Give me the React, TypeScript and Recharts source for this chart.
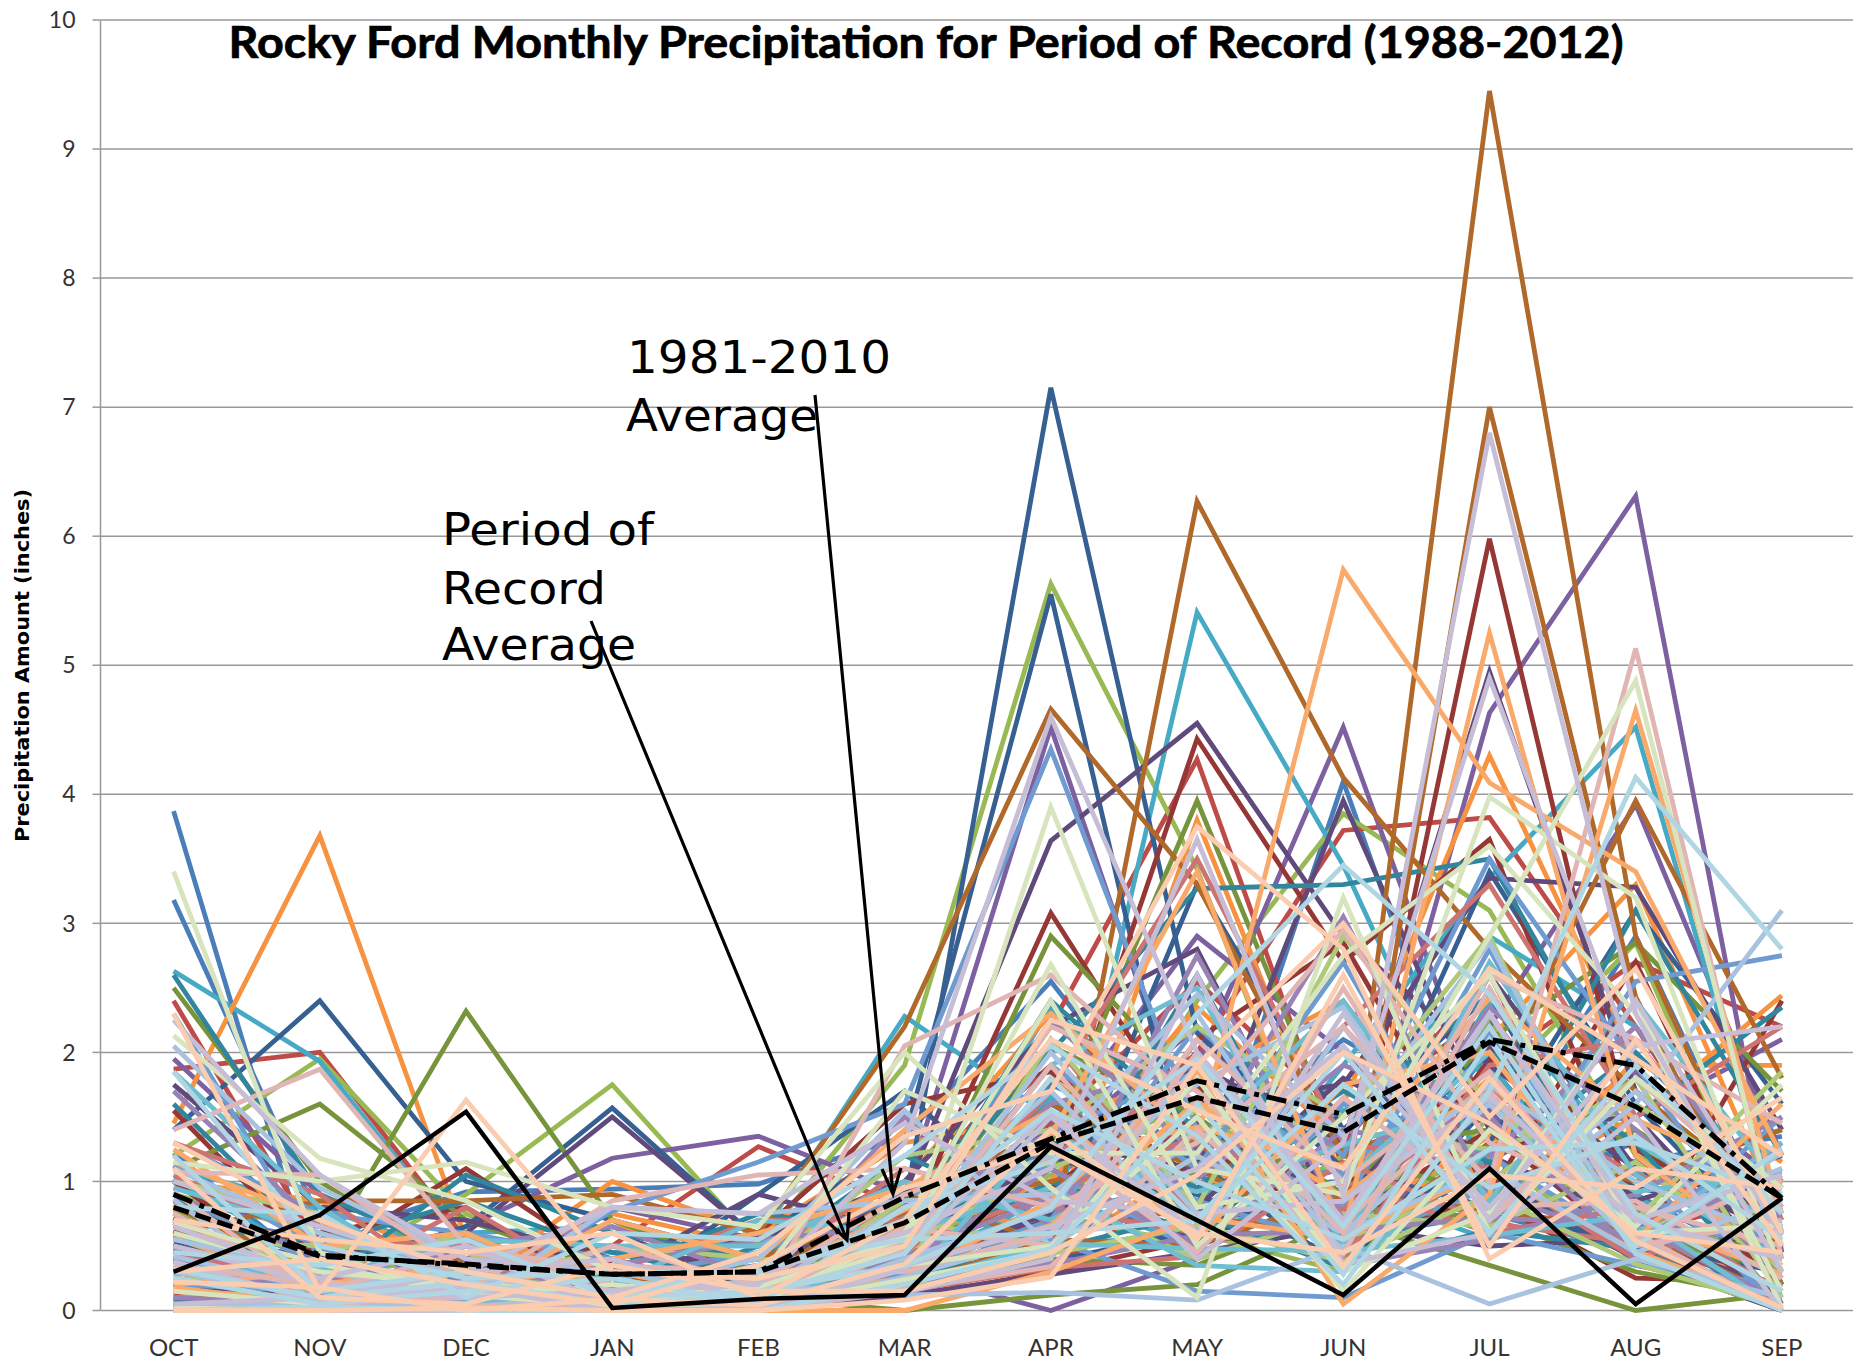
import { CartesianGrid, Line, LineChart, XAxis, YAxis } from "recharts";

const months = ["OCT", "NOV", "DEC", "JAN", "FEB", "MAR", "APR", "MAY", "JUN", "JUL", "AUG", "SEP"];
const yTicks = [0, 1, 2, 3, 4, 5, 6, 7, 8, 9, 10];
const edgeTicks = [-0.5, 0.5, 1.5, 2.5, 3.5, 4.5, 5.5, 6.5, 7.5, 8.5, 9.5, 10.5, 11.5];

// one row per record, OCT..SEP, grouped by line colour
const blue = [
  [3.87, 0.1, 0.45, 0.2, 0.35, 0.9, 1.6, 0.95, 1.0, 1.1, 2.9, 0.5],
  [0.75, 0.55, 0.92, 0.94, 0.98, 1.35, 2.55, 1.1, 0.7, 2.0, 0.9, 0.3],
  [0.6, 0.4, 0.1, 0.05, 0.3, 0.6, 1.3, 0.7, 4.1, 0.9, 1.3, 0.8],
  [3.18, 0.7, 0.2, 0.1, 0.15, 0.4, 0.8, 1.4, 0.7, 1.9, 0.6, 0.9],
  [0.02, 0.0, 0.05, 0.0, 0.12, 0.2, 0.7, 1.05, 0.55, 0.75, 0.45, 0.05],
  [1.22, 0.28, 0.0, 0.08, 0.0, 0.62, 1.75, 1.25, 2.1, 1.45, 1.15, 1.35],
];
const red = [
  [2.4, 0.5, 0.2, 0.1, 0.25, 0.9, 1.9, 0.8, 1.3, 2.6, 0.5, 0.2],
  [1.87, 2.0, 0.55, 0.3, 0.1, 0.5, 1.0, 2.0, 3.72, 3.82, 2.2, 0.5],
  [0.5, 0.3, 0.4, 0.5, 1.27, 0.8, 2.2, 4.27, 1.1, 1.5, 0.6, 0.9],
  [0.95, 0.7, 0.1, 0.2, 0.15, 0.35, 0.7, 1.5, 0.5, 1.9, 2.7, 2.2],
  [0.12, 0.22, 0.0, 0.02, 0.0, 0.3, 0.35, 0.95, 0.85, 1.0, 0.4, 0.0],
  [0.62, 0.05, 0.22, 0.0, 0.18, 0.75, 1.45, 2.55, 1.5, 2.3, 0.75, 1.05],
];
const green = [
  [1.2, 1.95, 0.75, 0.2, 0.1, 0.6, 1.5, 0.6, 0.3, 1.5, 0.5, 0.4],
  [0.65, 0.3, 0.9, 1.75, 0.5, 1.9, 5.63, 3.42, 0.5, 1.2, 0.4, 0.1],
  [0.4, 0.2, 0.5, 0.3, 0.2, 0.8, 0.6, 2.4, 3.85, 3.1, 1.2, 0.7],
  [0.9, 0.6, 0.1, 0.15, 0.3, 0.4, 1.2, 1.0, 0.6, 1.7, 2.85, 0.2],
  [0.2, 0.02, 0.0, 0.12, 0.0, 0.25, 0.75, 0.5, 1.2, 0.85, 1.35, 0.05],
  [0.78, 0.33, 0.12, 0.0, 0.08, 0.55, 1.05, 1.65, 0.42, 2.25, 0.6, 0.55],
];
const purple = [
  [1.95, 0.9, 0.4, 0.5, 0.3, 0.6, 1.0, 1.9, 4.52, 1.4, 0.7, 0.3],
  [0.55, 0.3, 0.65, 1.18, 1.35, 0.9, 4.52, 1.2, 0.6, 4.63, 6.31, 0.45],
  [0.3, 0.1, 0.25, 0.8, 0.55, 0.3, 0.0, 0.4, 0.8, 2.2, 3.92, 1.2],
  [0.85, 0.65, 0.1, 0.1, 0.05, 0.7, 1.4, 2.9, 2.0, 0.9, 1.5, 2.1],
  [0.05, 0.0, 0.08, 0.0, 0.02, 0.4, 0.6, 0.8, 1.1, 1.55, 0.35, 0.12],
  [0.48, 0.12, 0.0, 0.18, 0.0, 0.5, 1.25, 2.2, 0.7, 1.15, 1.85, 1.0],
];
const teal = [
  [2.63, 1.93, 0.5, 0.45, 0.55, 2.28, 1.5, 0.9, 1.1, 2.9, 2.2, 0.8],
  [0.7, 0.5, 0.3, 0.2, 0.4, 0.8, 0.55, 5.41, 3.45, 1.0, 0.6, 0.4],
  [1.1, 0.8, 0.4, 0.1, 0.2, 0.3, 0.9, 0.5, 1.9, 3.35, 4.52, 0.6],
  [0.3, 0.15, 0.6, 0.65, 0.3, 0.5, 2.35, 1.3, 0.4, 2.4, 1.1, 1.4],
  [0.0, 0.08, 0.02, 0.0, 0.1, 0.33, 0.5, 0.6, 0.95, 0.55, 0.9, 0.02],
  [1.02, 0.38, 0.1, 0.05, 0.0, 0.68, 1.65, 0.85, 1.55, 1.9, 0.55, 0.7],
];
const orange = [
  [1.45, 3.68, 0.55, 0.3, 0.4, 1.0, 2.3, 1.2, 0.8, 1.8, 0.7, 0.5],
  [0.25, 0.1, 0.2, 1.0, 0.6, 1.3, 1.5, 1.8, 2.4, 0.9, 1.5, 2.44],
  [1.0, 0.85, 0.3, 0.75, 0.5, 0.9, 0.6, 3.8, 1.0, 2.1, 3.3, 0.7],
  [0.1, 0.2, 0.1, 0.7, 0.1, 0.4, 1.8, 0.9, 1.6, 4.3, 1.9, 1.9],
  [0.08, 0.0, 0.0, 0.05, 0.02, 0.18, 0.42, 1.15, 0.65, 1.35, 0.85, 0.0],
  [0.82, 0.18, 0.28, 0.0, 0.12, 0.6, 1.0, 2.35, 1.3, 0.7, 1.95, 1.15],
];
const darkBlue = [
  [1.4, 2.4, 1.0, 0.7, 0.4, 0.8, 7.15, 2.15, 1.1, 0.8, 0.5, 0.3],
  [0.4, 0.3, 0.65, 1.57, 0.55, 1.33, 5.55, 0.68, 0.9, 3.4, 1.6, 0.4],
  [0.6, 0.5, 0.3, 0.1, 0.9, 1.7, 0.6, 3.3, 1.4, 2.45, 0.5, 0.1],
  [0.15, 0.1, 0.05, 0.3, 0.2, 0.5, 1.2, 0.9, 0.4, 1.3, 3.1, 1.6],
  [0.0, 0.02, 0.0, 0.1, 0.0, 0.15, 0.38, 0.62, 0.72, 1.05, 0.4, 0.0],
  [0.52, 0.25, 0.05, 0.0, 0.15, 0.45, 1.5, 1.15, 0.32, 1.6, 0.95, 0.75],
];
const darkRed = [
  [0.8, 0.5, 0.3, 0.4, 0.1, 0.6, 3.08, 1.3, 0.6, 5.98, 1.2, 0.2],
  [1.55, 0.4, 1.1, 0.35, 0.2, 0.35, 1.1, 4.43, 2.7, 3.65, 0.8, 0.1],
  [0.3, 0.6, 0.8, 0.1, 0.6, 1.6, 1.85, 1.0, 0.7, 1.4, 0.45, 2.4],
  [1.0, 0.2, 0.1, 0.05, 0.0, 0.2, 0.55, 2.1, 2.85, 0.9, 2.7, 0.3],
  [0.03, 0.0, 0.12, 0.0, 0.02, 0.1, 0.3, 0.55, 0.6, 0.85, 0.25, 0.22],
  [0.68, 0.08, 0.0, 0.12, 0.05, 0.42, 0.95, 1.75, 0.4, 1.95, 1.25, 0.6],
];
const darkGreen = [
  [2.5, 1.0, 0.3, 0.2, 0.3, 0.6, 2.05, 1.5, 0.7, 2.2, 0.6, 0.3],
  [1.1, 1.6, 0.7, 0.3, 0.1, 0.7, 1.3, 3.95, 1.2, 0.9, 1.4, 0.6],
  [0.85, 0.4, 2.32, 0.7, 0.3, 0.5, 2.9, 1.7, 0.9, 2.1, 2.85, 1.7],
  [0.1, 0.05, 0.15, 0.2, 0.1, 0.0, 0.12, 0.2, 0.7, 0.35, 0.0, 0.13],
  [0.05, 0.12, 0.0, 0.02, 0.0, 0.22, 0.4, 0.35, 0.8, 0.72, 0.3, 0.08],
  [0.42, 0.02, 0.18, 0.0, 0.05, 0.58, 1.15, 1.05, 1.25, 1.4, 0.65, 0.45],
];
const darkPurple = [
  [1.75, 0.8, 0.7, 0.4, 0.1, 0.5, 1.2, 0.8, 1.8, 1.2, 0.7, 0.5],
  [0.6, 0.4, 0.6, 1.5, 0.55, 1.0, 2.2, 2.8, 0.6, 2.6, 1.1, 0.9],
  [0.3, 0.2, 0.4, 0.1, 0.3, 0.9, 3.64, 4.55, 2.9, 1.9, 1.1, 0.6],
  [0.2, 0.1, 0.05, 0.3, 0.9, 0.6, 1.3, 1.1, 3.95, 1.4, 1.5, 0.3],
  [0.32, 0.2, 0.1, 0.2, 0.6, 0.5, 0.9, 1.9, 1.3, 4.95, 1.7, 0.6],
  [0.65, 0.3, 0.2, 0.6, 0.2, 0.4, 0.7, 1.6, 1.75, 3.35, 3.28, 1.4],
  [0.0, 0.0, 0.05, 0.02, 0.0, 0.12, 0.28, 0.45, 0.65, 0.5, 0.55, 0.18],
  [0.72, 0.15, 0.0, 0.08, 0.12, 0.38, 0.75, 1.45, 0.85, 2.05, 0.85, 1.2],
];
const darkTeal = [
  [2.6, 0.9, 0.4, 0.3, 0.75, 0.6, 2.4, 1.4, 1.1, 2.0, 1.3, 0.05],
  [0.9, 0.2, 1.05, 0.6, 0.4, 1.2, 0.7, 2.6, 0.5, 1.1, 3.1, 1.2],
  [0.3, 0.6, 0.2, 0.1, 0.5, 0.7, 2.0, 3.27, 3.3, 3.5, 1.5, 2.35],
  [1.6, 0.5, 0.85, 0.45, 0.2, 0.4, 1.0, 0.6, 1.5, 2.45, 0.7, 0.0],
  [0.08, 0.05, 0.0, 0.0, 0.05, 0.28, 0.47, 0.75, 0.33, 0.62, 0.48, 0.03],
  [0.58, 0.22, 0.12, 0.02, 0.0, 0.52, 1.3, 0.95, 1.7, 1.15, 2.0, 0.85],
];
const brown = [
  [0.5, 0.2, 0.1, 0.2, 0.1, 0.5, 0.9, 0.7, 0.66, 9.45, 2.9, 0.4],
  [0.3, 0.1, 0.4, 0.2, 0.4, 0.8, 1.0, 1.3, 0.43, 7.0, 2.43, 0.2],
  [0.6, 0.85, 0.85, 0.9, 0.6, 2.2, 4.66, 3.3, 1.2, 1.7, 3.95, 1.8],
  [0.8, 0.3, 0.1, 0.05, 0.25, 0.9, 0.52, 6.27, 4.13, 2.8, 1.7, 0.8],
  [0.02, 0.0, 0.02, 0.0, 0.08, 0.2, 0.55, 0.5, 0.9, 0.78, 0.62, 0.1],
  [0.38, 0.12, 0.0, 0.15, 0.0, 0.75, 1.6, 1.1, 0.5, 1.3, 1.0, 1.4],
];
const midBlue = [
  [2.3, 0.4, 0.2, 0.1, 0.2, 0.5, 1.9, 1.1, 2.7, 0.75, 2.55, 2.75],
  [0.2, 0.15, 0.1, 0.77, 1.15, 1.6, 4.35, 1.4, 0.8, 2.8, 0.7, 0.5],
  [1.3, 0.75, 0.6, 0.4, 0.1, 0.3, 0.7, 2.2, 1.2, 3.5, 1.9, 0.3],
  [0.5, 0.1, 0.3, 0.25, 0.45, 0.9, 1.1, 0.45, 1.6, 1.2, 0.5, 1.5],
  [0.9, 0.35, 0.15, 0.1, 0.05, 0.45, 0.55, 0.15, 0.1, 0.6, 0.35, 0.2],
  [0.0, 0.02, 0.08, 0.0, 0.03, 0.28, 0.62, 0.85, 0.5, 0.95, 1.1, 0.0],
  [1.12, 0.48, 0.0, 0.13, 0.0, 0.72, 1.38, 1.85, 1.05, 2.15, 0.78, 0.95],
];
const midRed = [
  [1.3, 0.9, 0.1, 0.2, 0.05, 0.45, 1.7, 3.5, 1.3, 1.1, 0.4, 0.8],
  [0.45, 0.2, 0.8, 0.15, 0.3, 1.1, 0.8, 0.6, 2.2, 3.3, 1.5, 2.2],
  [0.7, 0.05, 0.3, 0.3, 0.7, 0.7, 1.2, 1.8, 0.4, 1.9, 2.1, 0.6],
  [1.05, 0.55, 0.5, 0.05, 0.1, 0.25, 2.1, 0.7, 1.0, 0.6, 0.8, 0.15],
  [0.02, 0.0, 0.03, 0.02, 0.0, 0.15, 0.33, 0.42, 1.15, 0.68, 0.52, 0.05],
  [0.33, 0.28, 0.0, 0.1, 0.22, 0.48, 0.92, 1.35, 0.78, 1.7, 1.05, 0.72],
];
const midGreen = [
  [0.7, 0.3, 0.6, 0.1, 0.3, 1.2, 1.4, 2.2, 1.5, 2.9, 0.6, 1.0],
  [0.15, 0.1, 0.2, 0.25, 0.05, 0.7, 0.5, 1.2, 0.55, 1.0, 1.8, 0.1],
  [1.0, 0.75, 0.15, 0.5, 0.4, 0.3, 2.1, 0.8, 2.9, 1.6, 0.7, 1.85],
  [0.55, 0.5, 0.45, 0.05, 0.15, 0.85, 0.9, 0.4, 0.75, 0.65, 1.15, 0.3],
  [0.0, 0.06, 0.0, 0.04, 0.0, 0.18, 0.44, 0.66, 0.38, 0.9, 0.36, 0.02],
  [0.25, 0.14, 0.32, 0.0, 0.08, 0.52, 1.1, 1.55, 1.4, 1.25, 1.6, 0.88],
];
const midPurple = [
  [1.7, 0.65, 0.3, 0.2, 0.15, 0.55, 2.25, 1.2, 3.05, 0.9, 0.55, 1.1],
  [0.4, 0.1, 0.5, 0.65, 0.25, 1.5, 0.65, 2.75, 0.7, 2.35, 1.4, 0.25],
  [0.9, 0.4, 0.1, 0.1, 0.35, 0.35, 1.1, 0.5, 1.4, 1.2, 2.2, 0.7],
  [0.1, 0.05, 0.25, 0.35, 0.55, 0.65, 1.6, 1.9, 0.35, 0.55, 0.9, 1.5],
  [0.03, 0.0, 0.02, 0.0, 0.06, 0.22, 0.36, 0.58, 0.62, 0.72, 0.66, 0.06],
  [0.46, 0.26, 0.0, 0.16, 0.0, 0.42, 0.88, 1.02, 1.9, 1.5, 0.42, 1.3],
];
const midTeal = [
  [1.85, 0.8, 0.1, 0.15, 0.1, 0.45, 1.9, 2.5, 0.5, 2.7, 1.05, 0.4],
  [0.35, 0.25, 0.55, 0.5, 0.5, 1.0, 0.7, 1.3, 2.4, 0.85, 2.4, 0.95],
  [0.95, 0.6, 0.3, 0.05, 0.2, 0.2, 1.4, 0.7, 1.0, 2.0, 0.6, 1.3],
  [0.6, 0.15, 0.05, 0.2, 0.7, 0.6, 0.95, 0.35, 0.3, 1.25, 1.3, 0.65],
  [0.0, 0.0, 0.06, 0.03, 0.0, 0.2, 0.52, 0.48, 0.46, 0.58, 0.74, 0.0],
  [0.28, 0.34, 0.16, 0.0, 0.14, 0.62, 1.22, 0.92, 1.28, 1.62, 0.92, 1.08],
];
const midOrange = [
  [1.25, 0.5, 0.6, 0.1, 0.05, 0.65, 1.35, 3.4, 0.6, 5.25, 1.2, 0.35],
  [0.2, 0.3, 0.1, 0.7, 0.4, 1.4, 2.3, 1.32, 5.74, 4.09, 3.4, 1.2],
  [0.75, 0.05, 0.45, 0.3, 0.1, 0.25, 0.85, 1.85, 0.05, 0.9, 4.65, 0.75],
  [1.15, 0.7, 0.15, 0.4, 0.6, 0.95, 1.55, 0.55, 1.75, 2.0, 0.55, 1.6],
  [0.04, 0.0, 0.0, 0.06, 0.0, 0.0, 0.3, 0.72, 0.56, 1.08, 0.46, 0.04],
  [0.56, 0.2, 0.35, 0.0, 0.24, 0.78, 1.18, 1.42, 1.12, 2.42, 1.48, 0.98],
  [0.18, 0.04, 0.02, 0.14, 0.0, 0.34, 0.66, 1.62, 0.88, 1.76, 0.72, 0.28],
];
const paleBlue = [
  [2.05, 0.95, 0.4, 0.3, 0.15, 0.8, 1.2, 2.45, 1.35, 2.85, 0.7, 1.1],
  [0.3, 0.1, 0.05, 0.8, 0.75, 0.85, 0.9, 1.75, 2.35, 0.7, 1.6, 3.1],
  [1.1, 0.6, 0.25, 0.05, 0.25, 0.5, 2.0, 0.75, 0.85, 1.75, 1.0, 0.55],
  [0.05, 0.05, 0.03, 0.1, 0.2, 0.12, 0.14, 0.08, 0.5, 0.05, 0.4, 0.1],
  [0.55, 0.3, 0.15, 0.15, 0.4, 1.55, 0.5, 1.2, 0.6, 1.1, 0.45, 0.85],
  [0.0, 0.0, 0.0, 0.02, 0.0, 0.26, 0.58, 1.9, 0.45, 2.3, 0.56, 0.0],
  [0.42, 0.16, 0.3, 0.0, 0.1, 0.7, 1.7, 0.55, 2.2, 0.75, 1.7, 0.62],
  [0.86, 0.04, 0.0, 0.07, 0.0, 0.4, 0.78, 2.3, 0.6, 1.6, 0.5, 1.22],
];
const palePink = [
  [1.4, 1.87, 0.5, 0.2, 0.05, 2.05, 2.6, 1.6, 2.95, 1.3, 0.8, 0.5],
  [0.35, 0.2, 0.15, 0.85, 1.05, 1.1, 0.8, 1.3, 2.2, 1.0, 5.13, 0.4],
  [1.07, 1.05, 0.3, 0.1, 0.1, 0.55, 2.2, 1.7, 0.6, 2.6, 2.1, 1.45],
  [0.75, 0.15, 0.45, 0.35, 0.3, 0.3, 0.6, 2.1, 1.0, 1.85, 0.5, 0.7],
  [0.15, 0.05, 0.1, 0.5, 0.2, 0.9, 1.3, 0.45, 1.65, 0.8, 0.85, 0.25],
  [0.0, 0.0, 0.04, 0.0, 0.0, 0.16, 0.34, 1.4, 0.44, 2.5, 0.6, 0.0],
  [0.5, 0.24, 0.0, 0.12, 0.16, 0.46, 1.9, 0.6, 2.5, 0.7, 1.8, 0.8],
  [0.92, 0.1, 0.2, 0.0, 0.06, 0.64, 0.5, 2.0, 0.68, 1.7, 0.55, 1.02],
];
const paleGreen = [
  [3.4, 0.45, 0.1, 0.2, 0.1, 0.5, 3.9, 1.1, 0.9, 3.98, 3.2, 0.3],
  [2.13, 1.18, 0.85, 0.3, 0.25, 1.7, 1.22, 1.22, 2.75, 3.6, 2.3, 0.15],
  [0.6, 0.3, 0.2, 0.15, 0.05, 0.6, 2.68, 0.8, 1.0, 2.9, 4.88, 0.5],
  [1.15, 1.0, 1.15, 0.8, 0.65, 2.0, 0.95, 0.1, 3.2, 0.6, 1.8, 0.95],
  [0.15, 0.05, 0.2, 0.15, 0.05, 0.35, 0.5, 1.5, 0.15, 1.4, 0.65, 1.75],
  [0.02, 0.0, 0.0, 0.0, 0.03, 0.24, 0.46, 1.8, 0.3, 0.76, 2.4, 0.02],
  [0.68, 0.36, 0.12, 0.04, 0.18, 0.56, 2.4, 0.5, 1.5, 2.6, 0.6, 0.66],
];
const lavender = [
  [2.25, 1.05, 0.4, 0.15, 0.2, 1.3, 4.6, 2.0, 0.7, 2.3, 0.7, 0.4],
  [0.5, 0.2, 0.1, 0.15, 0.3, 0.6, 1.1, 3.65, 0.9, 6.8, 2.3, 0.3],
  [1.0, 0.65, 0.3, 0.8, 0.75, 1.45, 0.85, 0.75, 0.85, 1.65, 0.7, 1.05],
  [0.65, 0.25, 0.5, 0.05, 0.1, 0.45, 1.55, 0.4, 1.3, 4.9, 1.9, 0.75],
  [0.05, 0.1, 0.3, 0.4, 0.05, 0.35, 0.65, 1.1, 2.05, 0.8, 2.05, 2.2],
  [0.0, 0.0, 0.0, 0.0, 0.02, 0.14, 0.4, 2.6, 0.36, 0.6, 1.5, 0.0],
  [0.38, 0.06, 0.18, 0.0, 0.0, 0.32, 1.5, 0.6, 2.3, 0.7, 2.4, 0.58],
];
const paleTeal = [
  [1.85, 0.5, 0.25, 0.3, 0.3, 0.7, 1.55, 1.0, 0.55, 1.25, 1.3, 0.9],
  [0.45, 0.35, 0.55, 0.1, 0.15, 0.35, 0.8, 2.3, 3.45, 2.45, 0.75, 0.15],
  [0.8, 0.75, 0.1, 0.6, 0.55, 1.2, 2.05, 1.35, 0.2, 1.7, 4.13, 2.8],
  [1.2, 0.15, 0.3, 0.1, 0.35, 0.55, 0.6, 0.7, 1.75, 0.95, 1.35, 0.55],
  [0.25, 0.05, 0.15, 0.25, 0.05, 0.8, 1.15, 1.95, 0.65, 2.2, 0.5, 1.25],
  [0.0, 0.03, 0.0, 0.0, 0.0, 0.2, 0.48, 1.6, 0.28, 2.1, 0.44, 0.0],
  [0.32, 0.1, 0.22, 0.05, 0.12, 0.44, 1.8, 0.7, 2.0, 0.6, 1.9, 0.76],
];
const peach = [
  [2.3, 0.15, 1.63, 0.3, 0.25, 0.5, 2.25, 1.9, 3.0, 1.5, 2.65, 0.6],
  [1.3, 0.7, 0.3, 0.1, 0.45, 1.35, 1.7, 3.75, 2.8, 0.4, 1.1, 0.95],
  [0.7, 0.55, 0.45, 0.6, 0.1, 0.7, 2.1, 1.55, 1.1, 2.65, 1.95, 1.2],
  [1.1, 0.1, 0.05, 0.35, 0.15, 0.15, 0.45, 1.05, 2.0, 1.45, 0.6, 0.45],
  [0.3, 0.4, 0.2, 0.05, 0.35, 0.95, 1.25, 0.6, 0.45, 1.05, 0.95, 1.65],
  [0.0, 0.0, 0.02, 0.0, 0.0, 0.08, 0.26, 1.9, 0.34, 1.8, 0.54, 0.02],
  [0.22, 0.18, 0.0, 0.09, 0.04, 0.36, 1.4, 0.55, 2.6, 0.5, 2.1, 0.5],
];

const seriesGroups: [number[][], string][] = [
  [blue, "#4A7EBB"],
  [red, "#BE4B48"],
  [green, "#98B954"],
  [purple, "#7D60A0"],
  [teal, "#46AAC5"],
  [orange, "#F69240"],
  [darkBlue, "#376092"],
  [darkRed, "#953735"],
  [darkGreen, "#77933C"],
  [darkPurple, "#604A7B"],
  [darkTeal, "#31859C"],
  [brown, "#B0692A"],
  [midBlue, "#6F9BD1"],
  [midRed, "#CD7371"],
  [midGreen, "#AFC97A"],
  [midPurple, "#9983B5"],
  [midTeal, "#6FBDD1"],
  [midOrange, "#F9AA6B"],
  [paleBlue, "#A9C2E0"],
  [palePink, "#E0B5B4"],
  [paleGreen, "#D7E4BD"],
  [lavender, "#C6BDD6"],
  [paleTeal, "#B0D6E3"],
  [peach, "#FBCDB0"],
];

const periodAverage = [0.8, 0.42, 0.36, 0.28, 0.3, 0.68, 1.3, 1.65, 1.38, 2.08, 1.58, 0.87];
const normalAverage = [0.9, 0.43, 0.35, 0.28, 0.3, 0.88, 1.33, 1.78, 1.52, 2.1, 1.9, 0.87];
const blackYear = [0.3, 0.74, 1.54, 0.02, 0.09, 0.12, 1.27, 0.7, 0.12, 1.1, 0.05, 0.87];

const lines = seriesGroups.flatMap(([rows, color], g) =>
  rows.map((values, r) => ({ key: `s${g}_${r}`, values, color }))
);

const chartData = months.map((month, i) => {
  const row: Record<string, number | string> = {
    month,
    idx: i,
    periodAverage: periodAverage[i],
    normalAverage: normalAverage[i],
    blackYear: blackYear[i],
  };
  lines.forEach((l) => {
    row[l.key] = l.values[i];
  });
  return row;
});

const GRID = "#999999";
const LABEL = "#333333";

export default function App() {
  return (
    <div style={{ position: "absolute", left: 0, top: 0, width: 1853, height: 1369, overflow: "hidden", background: "#fff" }}>
      <LineChart
        width={1855}
        height={1369}
        data={chartData}
        margin={{ top: 20, right: 0, bottom: 0, left: 0.5 }}
      >
        <CartesianGrid xAxisId="months" vertical={false} stroke={GRID} strokeWidth={1.5} />
        {/* tick marks sit between the months, so they get their own axis */}
        <XAxis
          xAxisId="edges"
          type="number"
          dataKey="idx"
          domain={[-0.5, 11.5]}
          ticks={edgeTicks}
          tick={false}
          tickSize={10}
          height={0}
          stroke={GRID}
          strokeWidth={1.5}
          allowDataOverflow
        />
        <XAxis
          xAxisId="months"
          type="number"
          dataKey="idx"
          domain={[-0.5, 11.5]}
          ticks={months.map((_, i) => i)}
          tickFormatter={(i: number) => months[i]}
          axisLine={false}
          tickLine={false}
          tickMargin={22}
          height={58.5}
          interval={0}
          tick={{ fontFamily: "Lato", fontSize: 24, fill: LABEL }}
          allowDataOverflow
        />
        <YAxis
          domain={[0, 10]}
          ticks={yTicks}
          width={100}
          tickSize={8}
          tickMargin={17}
          stroke={GRID}
          strokeWidth={1.5}
          interval={0}
          tick={{ fontFamily: "Lato", fontSize: 23, fill: LABEL }}
        />

        {lines.map((l) => (
          <Line
            key={l.key}
            xAxisId="months"
            dataKey={l.key}
            stroke={l.color}
            strokeWidth={4.8}
            dot={false}
            activeDot={false}
            isAnimationActive={false}
          />
        ))}
        <Line xAxisId="months" dataKey="blackYear" stroke="#000" strokeWidth={4.5} dot={false} activeDot={false} isAnimationActive={false} />
        <Line xAxisId="months" dataKey="periodAverage" stroke="#000" strokeWidth={5} strokeDasharray="16 7" dot={false} activeDot={false} isAnimationActive={false} />
        <Line xAxisId="months" dataKey="normalAverage" stroke="#000" strokeWidth={5} strokeDasharray="20 8 5 8" dot={false} activeDot={false} isAnimationActive={false} />
      </LineChart>

      {/* labels and arrows are drawn over the lines */}
      <svg width={1853} height={1369} style={{ position: "absolute", left: 0, top: 0, pointerEvents: "none" }}>
        <text x={926} y={58} textAnchor="middle" fontFamily="Lato" fontWeight={700} fontSize={43} fill="#000" stroke="#000" strokeWidth={0.7} textLength={1395} lengthAdjust="spacingAndGlyphs">
          Rocky Ford Monthly Precipitation for Period of Record (1988-2012)
        </text>
        <text x={0} y={0} transform="translate(29 842) rotate(-90)" fontFamily="DejaVu Sans" fontWeight={700} fontSize={20} fill="#000" textLength={353} lengthAdjust="spacingAndGlyphs">
          Precipitation Amount (inches)
        </text>

        <g fontFamily="DejaVu Sans" fontSize={44} fill="#000">
          <text x={627} y={373} textLength={264} lengthAdjust="spacingAndGlyphs">1981-2010</text>
          <text x={626} y={431} textLength={192} lengthAdjust="spacingAndGlyphs">Average</text>
          <text x={442} y={545} textLength={212} lengthAdjust="spacingAndGlyphs">Period of</text>
          <text x={442} y={604} textLength={164} lengthAdjust="spacingAndGlyphs">Record</text>
          <text x={442} y={660} textLength={194} lengthAdjust="spacingAndGlyphs">Average</text>
        </g>
        <g stroke="#000" strokeWidth={3.2} fill="none">
          <path d="M591 621 L847 1240 M827 1221 L847 1240 L849 1212" />
          <path d="M815 395 L893 1194 M882 1169 L893 1194 L901 1168" />
        </g>
      </svg>
    </div>
  );
}
